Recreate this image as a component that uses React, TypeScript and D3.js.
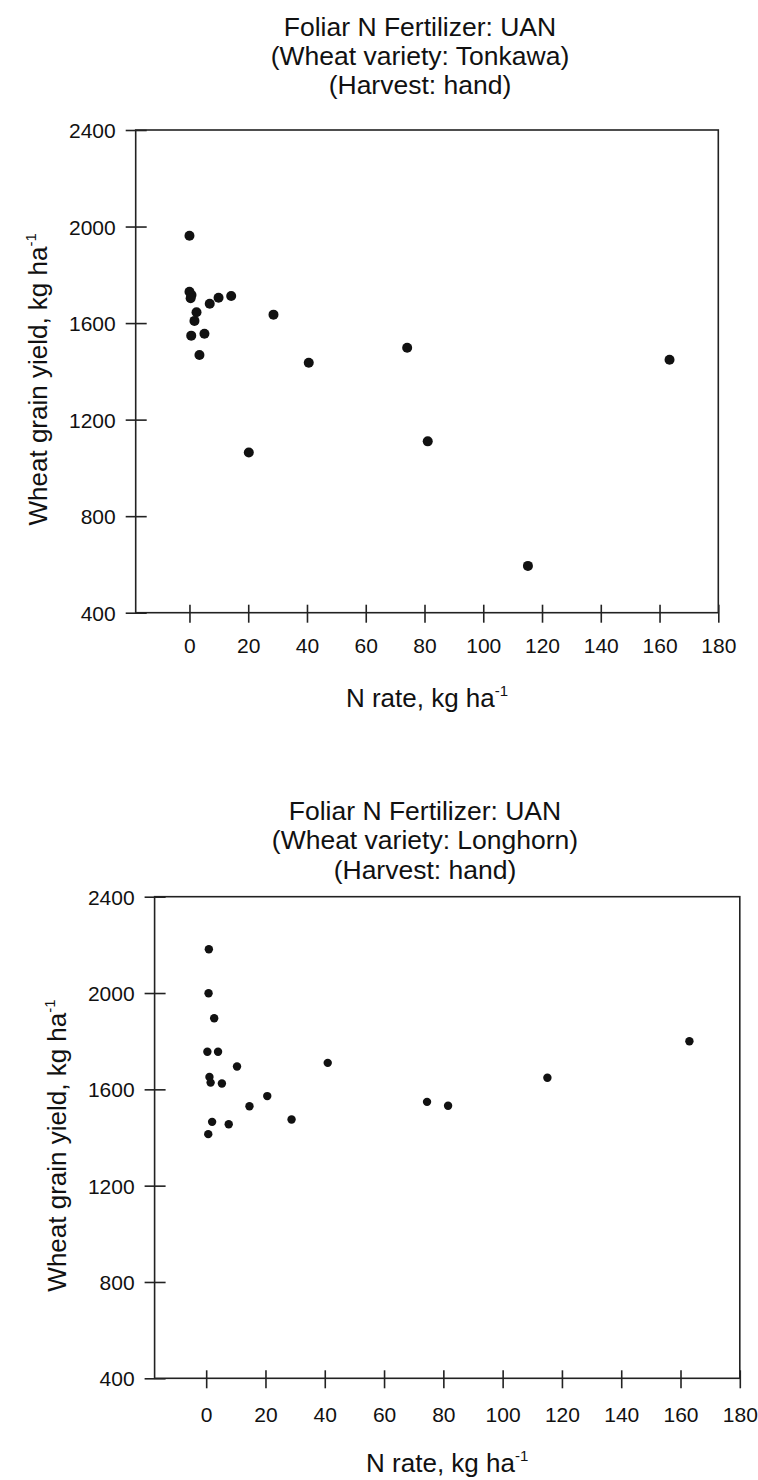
import React, { useEffect, useRef } from 'react';
import * as d3 from 'd3';

// N rate (kg/ha) and grain yield (kg/ha)
const tonkawaRate = [0, 0, 0.7, 0.4, 2.4, 1.7, 0.6, 5.1, 3.4, 6.9, 9.9, 14.2, 28.6, 20.2, 40.6, 74.1, 81.1, 115.2, 163.4];
const tonkawaYield = [1962, 1730, 1716, 1703, 1645, 1609, 1548, 1556, 1468, 1680, 1705, 1712, 1635, 1064, 1436, 1498, 1110, 594, 1448];

const longhornRate = [0.9, 0.8, 2.7, 0.4, 4.0, 10.4, 41.0, 1.1, 1.5, 5.3, 20.6, 14.6, 28.8, 2.0, 7.6, 0.7, 74.5, 81.6, 115.1, 163.0];
const longhornYield = [2182, 1999, 1895, 1756, 1756, 1695, 1710, 1651, 1628, 1624, 1572, 1530, 1475, 1465, 1455, 1414, 1548, 1532, 1648, 1800];

const xTicks = [0, 20, 40, 60, 80, 100, 120, 140, 160, 180];
const yTicks = [400, 800, 1200, 1600, 2000, 2400];

const fertTitle = 'Foliar N Fertilizer: UAN';
const harvestTitle = '(Harvest: hand)';
const varieties = ['Tonkawa', 'Longhorn'];

const FONT = '"Liberation Sans", Arial, Helvetica, sans-serif';
const INK = '#111';

const panels = [
  {
    rate: tonkawaRate, yld: tonkawaYield, variety: varieties[0],
    left: 135.7, right: 718.3, top: 130, bottom: 612.7, xMin: -18.3,
    titleX: 420, titleY: [36, 65, 94], xLabY: 706.7, yLabOff: 89, tickLabOff: 40, r: 5
  },
  {
    rate: longhornRate, yld: longhornYield, variety: varieties[1],
    left: 154.6, right: 739.8, top: 896.7, bottom: 1378.3, xMin: -17.4,
    titleX: 425, titleY: [820, 849.3, 879], xLabY: 1472, yLabOff: 89, tickLabOff: 44, r: 4.2
  }
];

export default function App() {
  const ref = useRef<SVGSVGElement>(null);

  useEffect(() => {
    const svg = d3.select(ref.current);
    svg.selectAll('*').remove();

    panels.forEach((p) => {
      const g = svg.append('g');
      const x = d3.scaleLinear().domain([p.xMin, 180]).range([p.left, p.right]);
      const y = d3.scaleLinear().domain([400, 2400]).range([p.bottom, p.top]);

      // title, three lines
      const titles = [fertTitle, `(Wheat variety: ${p.variety})`, harvestTitle];
      titles.forEach((t, i) => {
        g.append('text')
          .attr('x', p.titleX)
          .attr('y', p.titleY[i])
          .attr('text-anchor', 'middle')
          .attr('font-size', 26.5)
          .attr('fill', INK)
          .text(t);
      });

      // frame
      g.append('rect')
        .attr('x', p.left)
        .attr('y', p.top)
        .attr('width', p.right - p.left)
        .attr('height', p.bottom - p.top)
        .attr('fill', 'none')
        .attr('stroke', '#222')
        .attr('stroke-width', 1.6);

      // x axis, ticks crossing the line
      const xa = g.append('g')
        .attr('transform', `translate(0,${p.bottom})`)
        .call(d3.axisBottom(x).tickValues(xTicks).tickSize(10).tickPadding(0));
      xa.select('.domain').remove();
      xa.selectAll('line').attr('y1', -8).attr('y2', 10).attr('stroke', '#222').attr('stroke-width', 1.6);
      xa.selectAll('text')
        .attr('y', p.tickLabOff)
        .attr('dy', null)
        .attr('font-size', 21)
        .attr('font-family', FONT)
        .attr('fill', INK);

      // y axis
      const ya = g.append('g')
        .attr('transform', `translate(${p.left},0)`)
        .call(d3.axisLeft(y).tickValues(yTicks).tickSize(10).tickFormat(d3.format('d')));
      ya.select('.domain').remove();
      ya.selectAll('line').attr('x1', -10).attr('x2', 11).attr('stroke', '#222').attr('stroke-width', 1.6);
      ya.selectAll('text')
        .attr('x', -20)
        .attr('dy', '0.36em')
        .attr('font-size', 21)
        .attr('font-family', FONT)
        .attr('fill', INK);

      // axis titles
      const xl = g.append('text')
        .attr('x', (p.left + p.right) / 2)
        .attr('y', p.xLabY)
        .attr('text-anchor', 'middle')
        .attr('font-size', 26)
        .attr('fill', INK);
      xl.append('tspan').text('N rate, kg ha');
      xl.append('tspan').attr('font-size', 15).attr('dy', -11).text('-1');

      const cy = (p.top + p.bottom) / 2 + 8;
      const yl = g.append('text')
        .attr('transform', `translate(${p.left - p.yLabOff},${cy}) rotate(-90)`)
        .attr('text-anchor', 'middle')
        .attr('font-size', 26)
        .attr('fill', INK);
      yl.append('tspan').text('Wheat grain yield, kg ha');
      yl.append('tspan').attr('font-size', 15).attr('dy', -11).text('-1');

      // points
      g.selectAll('circle.pt')
        .data(p.rate.map((r, i) => [r, p.yld[i]]))
        .enter()
        .append('circle')
        .attr('class', 'pt')
        .attr('cx', (d) => x(d[0]))
        .attr('cy', (d) => y(d[1]))
        .attr('r', p.r)
        .attr('fill', INK);
    });
  }, []);

  return (
    <svg
      ref={ref}
      width={758}
      height={1480}
      style={{ position: 'absolute', left: 0, top: 0, background: '#fff', fontFamily: FONT }}
    />
  );
}
